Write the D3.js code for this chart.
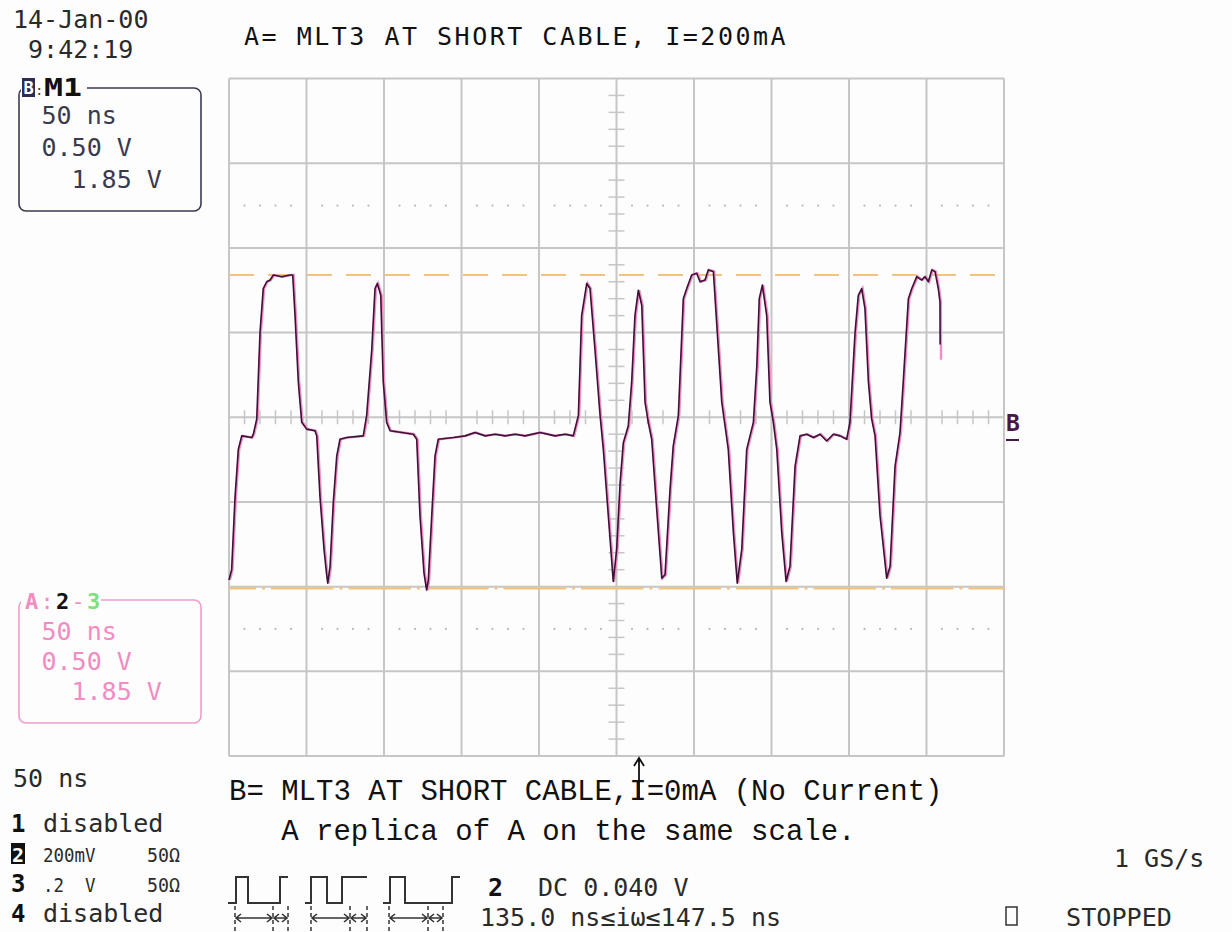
<!DOCTYPE html>
<html>
<head>
<meta charset="utf-8">
<script src="https://cdn.jsdelivr.net/npm/d3@7"></script>
<style>
  html, body { margin: 0; padding: 0; background: #fdfdfd; }
  svg { display: block; }
</style>
</head>
<body>
<svg id="scope"></svg>
<script>
// Trace samples (ns, V). B is a replica of A.
const timeNs = [0,1.7,3.9,6.0,8.2,14.6,15.7,17.9,20.0,22.1,
  24.3,26.5,28.6,34.0,39.4,41.1,42.6,44.7,46.9,50.1,
  55.5,56.6,58.7,61.3,63.0,63.7,65.2,67.3,69.5,71.6,
  75.9,86.6,88.8,92.1,94.2,95.7,97.9,99.5,101.7,103.9,
  118.9,121.1,123.2,125.8,127.5,128.6,130.8,132.9,135.0,144.7,
  152.3,158.7,165.2,171.6,178.1,184.5,190.9,200.6,210.3,216.8,
  222.1,225.4,227.5,230.8,232.9,236.1,239.4,241.5,244.7,247.9,
  250.1,252.3,254.4,257.6,259.8,261.9,264.1,266.3,268.4,270.5,
  272.7,275.9,279.2,281.3,284.5,286.6,289.9,293.1,295.3,298.5,
  301.7,303.9,307.1,309.2,312.5,314.6,317.9,320.0,322.1,325.4,
  327.9,330.8,334.0,338.3,340.5,342.1,344.1,346.9,349.0,351.2,
  353.4,356.6,359.4,361.9,365.2,368.4,372.7,377.0,381.3,385.6,
  389.9,394.2,398.5,400.6,403.9,406.0,408.2,410.3,412.5,414.6,
  416.8,420.0,424.3,426.5,429.7,432.9,435.0,438.3,440.5,443.7,
  446.9,449.0,451.2,453.4,455.5,457.6,458.7,458.8];

const volts = [-0.96,-0.90,-0.47,-0.19,-0.11,-0.12,-0.10,-0.01,0.50,0.76,
  0.80,0.81,0.84,0.83,0.84,0.84,0.60,0.21,-0.03,-0.07,
  -0.08,-0.11,-0.47,-0.78,-0.93,-0.98,-0.88,-0.50,-0.23,-0.13,
  -0.12,-0.11,0.01,0.40,0.76,0.79,0.72,0.21,-0.03,-0.08,
  -0.10,-0.13,-0.58,-0.92,-1.02,-0.96,-0.58,-0.23,-0.13,-0.12,
  -0.11,-0.09,-0.11,-0.10,-0.11,-0.10,-0.11,-0.09,-0.11,-0.10,
  -0.11,0.01,0.60,0.79,0.76,0.40,0.01,-0.19,-0.58,-0.97,
  -0.78,-0.39,-0.15,-0.05,0.21,0.60,0.75,0.66,0.09,-0.03,
  -0.13,-0.54,-0.95,-0.93,-0.43,-0.17,0.01,0.70,0.76,0.84,
  0.85,0.80,0.81,0.87,0.86,0.56,0.09,-0.05,-0.19,-0.68,
  -0.98,-0.78,-0.19,-0.03,0.30,0.70,0.78,0.60,0.09,-0.03,
  -0.19,-0.68,-0.97,-0.88,-0.29,-0.11,-0.10,-0.12,-0.10,-0.14,
  -0.10,-0.11,-0.13,-0.03,0.50,0.72,0.76,0.64,0.21,-0.01,
  -0.11,-0.58,-0.95,-0.88,-0.29,-0.09,0.21,0.70,0.76,0.83,
  0.81,0.83,0.80,0.87,0.86,0.76,0.68,0.34];

// cursors (1.85 V apart)
const cursorHigh = 0.84;
const cursorLow = -1.01;

// screen: 10 div x 50 ns, 8 div x 0.5 V
const timeDomain = [0, 500];
const voltDomain = [-2, 2];
const nsPerDiv = 50, voltPerDiv = 0.5;

// texts
const dateLines = ["14-Jan-00", " 9:42:19"];
const titleA = "A= MLT3 AT SHORT CABLE, I=200mA";
const titleB = ["B= MLT3 AT SHORT CABLE,I=0mA (No Current)", "   A replica of A on the same scale."];
const boxSettings = ["50 ns", "0.50 V", "1.85 V"];
const channelRows = [
  {num: "1", text: "disabled"},
  {num: "2", text: "200mV", ohm: "50\u03a9"},
  {num: "3", text: ".2  V", ohm: "50\u03a9"},
  {num: "4", text: "disabled"}];

const width = 1232, height = 932;
const mono = "'DejaVu Sans Mono', monospace";
const courier = "'Courier New', 'Liberation Mono', monospace";

const svg = d3.select("#scope").attr("width", width).attr("height", height);
svg.append("rect").attr("width", width).attr("height", height).attr("fill", "#fdfdfd");

const x = d3.scaleLinear().domain(timeDomain).range([229, 1004]);
const y = d3.scaleLinear().domain(voltDomain).range([756, 78.5]);

const gridColor = "#c6c6c6";

// Grid
const grid = svg.append("g").attr("stroke", gridColor).attr("stroke-width", 2);
grid.selectAll(".vline")
  .data(d3.range(timeDomain[0], timeDomain[1] + 1, nsPerDiv))
  .join("line")
  .attr("x1", d => x(d)).attr("x2", d => x(d))
  .attr("y1", y(voltDomain[1])).attr("y2", y(voltDomain[0]));
grid.selectAll(".hline")
  .data(d3.range(voltDomain[0], voltDomain[1] + 0.001, voltPerDiv))
  .join("line")
  .attr("x1", x(timeDomain[0])).attr("x2", x(timeDomain[1]))
  .attr("y1", d => y(d)).attr("y2", d => y(d));

// minor ticks on the centre axes
const minorT = d3.range(10, 500, 10).filter(d => d % 50 !== 0);
const minorV = d3.range(-19, 20).map(d => d / 10).filter(d => Math.abs(d * 2 - Math.round(d * 2)) > 0.01);
grid.selectAll(".tickx").data(minorT).join("line")
  .attr("stroke-width", 1.5)
  .attr("x1", d => x(d)).attr("x2", d => x(d))
  .attr("y1", y(0) - 7).attr("y2", y(0) + 7);
grid.selectAll(".ticky").data(minorV).join("line")
  .attr("stroke-width", 1.5)
  .attr("x1", x(250) - 8).attr("x2", x(250) + 8)
  .attr("y1", d => y(d)).attr("y2", d => y(d));

// dotted rows at +-2.5 div
const dotRows = [1.25, -1.25];
dotRows.forEach(v => {
  svg.append("g").selectAll("circle").data(minorT).join("circle")
    .attr("cx", d => x(d)).attr("cy", y(v)).attr("r", 1.1)
    .attr("fill", "#b8b8b8");
});

// cursors
svg.append("line")
  .attr("x1", x(0)).attr("x2", x(500))
  .attr("y1", y(cursorHigh)).attr("y2", y(cursorHigh))
  .attr("stroke", "#f2c27e").attr("stroke-width", 2)
  .attr("stroke-dasharray", "25,14");
svg.append("line")
  .attr("x1", x(0)).attr("x2", x(500))
  .attr("y1", y(cursorLow)).attr("y2", y(cursorLow))
  .attr("stroke", "#f2c27e").attr("stroke-width", 2.2)
  .attr("stroke-dasharray", "3,6,62.5,6").attr("stroke-dashoffset", 44.5);

// traces
const samples = timeNs.map((t, i) => [t, volts[i]]);
const line = d3.line().x(d => x(d[0])).y(d => y(d[1]));
svg.append("path")
  .datum(samples)
  .attr("d", line)
  .attr("fill", "none")
  .attr("stroke", "#ee8ec4").attr("stroke-width", 2.4)
  .attr("transform", "translate(0.9,0)");
svg.append("path")
  .datum(samples.slice(0, -1).concat([[458.8, 0.43]]))
  .attr("d", line)
  .attr("fill", "none")
  .attr("stroke", "#3e1238").attr("stroke-width", 1.6)
  .attr("stroke-linejoin", "round");

// B marker at right edge
svg.append("text").attr("x", 1006).attr("y", 431)
  .attr("font-family", mono).attr("font-weight", "bold").attr("font-size", 23)
  .attr("fill", "#4a1646").text("B");
svg.append("line").attr("x1", 1006).attr("x2", 1019).attr("y1", 440).attr("y2", 440)
  .attr("stroke", "#4a1646").attr("stroke-width", 2);

// trigger arrow
const trigX = 639;
svg.append("path")
  .attr("d", `M${trigX},758 V800 M${trigX - 5},766 L${trigX},758 L${trigX + 5},766`)
  .attr("fill", "none").attr("stroke", "#111").attr("stroke-width", 1.8);

// header
svg.selectAll(".date").data(dateLines).join("text")
  .attr("x", 13).attr("y", (d, i) => 28 + i * 30)
  .attr("font-family", mono).attr("font-size", 25).attr("fill", "#2a2a2a")
  .style("white-space", "pre").text(d => d);

svg.append("text").attr("x", 244).attr("y", 45)
  .attr("font-family", mono).attr("font-size", 25).attr("letter-spacing", 2.5)
  .attr("fill", "#111").style("white-space", "pre").text(titleA);

// settings boxes
function settingsBox(top, stroke, color, labelWidth, firstLine, step) {
  svg.append("rect").attr("x", 19).attr("y", top).attr("width", 182).attr("height", 123)
    .attr("rx", 7).attr("fill", "none").attr("stroke", stroke).attr("stroke-width", 1.6);
  svg.append("rect").attr("x", 21).attr("y", top - 10).attr("width", labelWidth).attr("height", 20)
    .attr("fill", "#fdfdfd");
  svg.selectAll(null).data(boxSettings).join("text")
    .attr("x", (d, i) => i === 2 ? 71.5 : 41.5)
    .attr("y", (d, i) => top + firstLine + i * step)
    .attr("font-family", mono).attr("font-size", 25).attr("fill", color)
    .text(d => d);
}

// B: M1
settingsBox(88, "#3a3a56", "#3a3a4e", 66, 36, 32);
svg.append("rect").attr("x", 22).attr("y", 78).attr("width", 13).attr("height", 19).attr("fill", "#2c2c56");
svg.append("text").attr("x", 23.5).attr("y", 94).attr("font-family", mono).attr("font-weight", "bold")
  .attr("font-size", 17).attr("fill", "#fff").text("B");
svg.append("text").attr("x", 35).attr("y", 95).attr("font-family", mono)
  .attr("font-size", 14).attr("fill", "#3a3a4e").text(":");
svg.append("text").attr("x", 44).attr("y", 96).attr("font-family", mono).attr("font-weight", "bold")
  .attr("font-size", 24).attr("textLength", 38).attr("lengthAdjust", "spacingAndGlyphs")
  .attr("fill", "#111").text("M1");

// A: 2-3
settingsBox(600, "#f09ccb", "#f08cc2", 80, 40, 30);
const labelA = [
  {t: "A", c: "#f08cc2", b: true}, {t: ":", c: "#f08cc2"},
  {t: "2", c: "#111", b: true}, {t: "-", c: "#f08cc2"}, {t: "3", c: "#7ee07e", b: true}];
svg.selectAll(null).data(labelA).join("text")
  .attr("x", (d, i) => 25 + i * 15.5).attr("y", 609)
  .attr("font-family", mono).attr("font-size", 22)
  .attr("font-weight", d => d.b ? "bold" : "normal")
  .attr("fill", d => d.c).text(d => d.t);

// timebase + channel list
svg.append("text").attr("x", 13).attr("y", 787)
  .attr("font-family", mono).attr("font-size", 25).attr("fill", "#2a2a2a").text("50 ns");
const rows = svg.append("g").attr("font-family", mono).attr("fill", "#2a2a2a");
channelRows.forEach((r, i) => {
  const by = 832 + i * 30;
  if (r.num === "2") {
    rows.append("rect").attr("x", 11).attr("y", by - 19).attr("width", 14).attr("height", 21).attr("fill", "#111");
    rows.append("text").attr("x", 12).attr("y", by).attr("font-size", 20).attr("font-weight", "bold")
      .attr("fill", "#fff").text(r.num);
  } else {
    rows.append("text").attr("x", 11).attr("y", by).attr("font-size", 24).attr("font-weight", "bold")
      .attr("fill", "#111").text(r.num);
  }
  if (r.ohm) {
    rows.append("text").attr("x", 43).attr("y", by).attr("font-size", 20)
      .attr("textLength", r.text.length * 10.5).attr("lengthAdjust", "spacingAndGlyphs")
      .style("white-space", "pre").text(r.text);
    rows.append("text").attr("x", 147).attr("y", by).attr("font-size", 20)
      .attr("textLength", 33).attr("lengthAdjust", "spacingAndGlyphs").text(r.ohm);
  } else {
    rows.append("text").attr("x", 43).attr("y", by).attr("font-size", 25).text(r.text);
  }
});

// B= caption
svg.selectAll(".capB").data(titleB).join("text")
  .attr("x", 229).attr("y", (d, i) => 800 + i * 40)
  .attr("font-family", courier).attr("font-size", 29).attr("fill", "#111")
  .style("white-space", "pre").text(d => d);

// pulse width icons
const icons = [
  {path: [228, 236, 248, 280, 288], marks: [235, 273, 288]},
  {path: [305, 311, 327, 342, 367], marks: [311, 350, 367]},
  {path: [383, 390, 405, 452, 460], marks: [389, 428, 443]}];
const lowY = 903, highY = 877, arrowY = 918;
const ic = svg.append("g").attr("fill", "none").attr("stroke", "#333").attr("stroke-width", 2);
icons.forEach(d => {
  const p = d.path;
  ic.append("path").attr("d", `M${p[0]},${lowY} H${p[1]} V${highY} H${p[2]} V${lowY} H${p[3]} V${highY} H${p[4]}`);
  d.marks.forEach(m => {
    ic.append("line").attr("x1", m).attr("x2", m).attr("y1", 906).attr("y2", 931)
      .attr("stroke-width", 1.5).attr("stroke-dasharray", "4,3");
  });
  for (let k = 0; k < 2; k++) {
    const a = d.marks[k] + 1, b = d.marks[k + 1] - 1;
    ic.append("path").attr("stroke-width", 1.6)
      .attr("d", `M${a},${arrowY} H${b} M${a + 5},${arrowY - 4} L${a},${arrowY} L${a + 5},${arrowY + 4} M${b - 5},${arrowY - 4} L${b},${arrowY} L${b - 5},${arrowY + 4}`);
  }
});

// trigger info
svg.append("text").attr("x", 488).attr("y", 896).attr("font-family", mono).attr("font-weight", "bold")
  .attr("font-size", 25).attr("fill", "#111").text("2");
svg.append("text").attr("x", 538).attr("y", 896).attr("font-family", mono)
  .attr("font-size", 25).attr("fill", "#2a2a2a").text("DC 0.040 V");
svg.append("text").attr("x", 480).attr("y", 926).attr("font-family", mono)
  .attr("font-size", 25).attr("fill", "#2a2a2a").text("135.0 ns\u2264i\u03c9\u2264147.5 ns");

// status
svg.append("text").attr("x", 1114).attr("y", 867).attr("font-family", mono)
  .attr("font-size", 25).attr("fill", "#2a2a2a").text("1 GS/s");
svg.append("rect").attr("x", 1006).attr("y", 907).attr("width", 11).attr("height", 18)
  .attr("fill", "none").attr("stroke", "#333").attr("stroke-width", 1.5);
svg.append("text").attr("x", 1066).attr("y", 926).attr("font-family", mono)
  .attr("font-size", 24).attr("textLength", 106).attr("lengthAdjust", "spacingAndGlyphs")
  .attr("fill", "#2a2a2a").text("STOPPED");
</script>
</body>
</html>
